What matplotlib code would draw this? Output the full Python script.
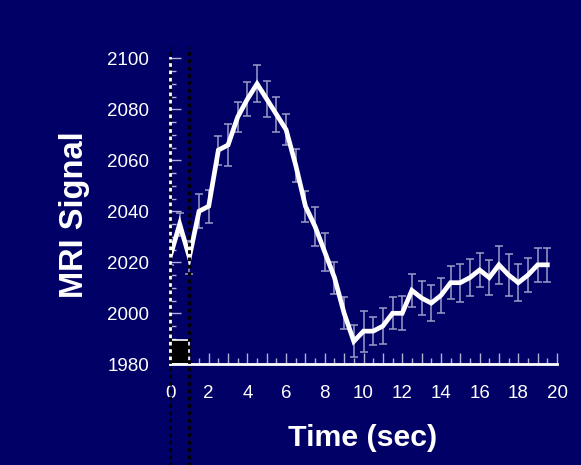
import matplotlib
matplotlib.use("Agg")
import matplotlib.pyplot as plt
from matplotlib.patches import Rectangle
from matplotlib.ticker import MultipleLocator

# ---- data ----
time_sec = [0.0, 0.5, 1.0, 1.5, 2.0, 2.5, 3.0, 3.5, 4.0, 4.5, 5.0, 5.5, 6.0, 6.5,
            7.0, 7.5, 8.0, 8.5, 9.0, 9.5, 10.0, 10.5, 11.0, 11.5, 12.0, 12.5,
            13.0, 13.5, 14.0, 14.5, 15.0, 15.5, 16.0, 16.5, 17.0, 17.5, 18.0,
            18.5, 19.0, 19.5]
mri_signal = [2022, 2035, 2022, 2040, 2042, 2064, 2066, 2077, 2084, 2090, 2084,
              2078, 2072, 2058, 2042, 2034, 2024, 2014, 2000, 1989, 1993, 1993,
              1995, 2000, 2000, 2009, 2006, 2004, 2007, 2012, 2012, 2014, 2017,
              2014, 2019, 2015, 2012, 2015, 2019, 2019]
signal_err = [3.0, 4.5, 6.5, 6.6, 6.5, 5.7, 8.3, 6.0, 6.8, 7.2, 7.1, 7.0, 6.0,
              6.5, 6.0, 7.5, 7.3, 6.3, 6.3, 6.3, 8.0, 5.4, 7.0, 6.2, 6.7, 6.5,
              6.5, 7.0, 7.0, 6.5, 7.5, 7.3, 6.8, 7.0, 7.4, 8.1, 7.3, 6.5, 6.6,
              6.8]
stim_start, stim_end, stim_top = 0, 1, 1989.5
x_ticks = list(range(0, 21))
x_tick_labels = [str(v) if v % 2 == 0 else "" for v in x_ticks]
y_ticks = [1980, 2000, 2020, 2040, 2060, 2080, 2100]

BG = "#000066"
W, H = 581, 465

plt.rcParams["font.family"] = ["Liberation Sans", "DejaVu Sans"]
fig = plt.figure(figsize=(W / 100, H / 100), dpi=100, facecolor=BG)
ax = fig.add_axes([170 / W, (H - 364.3) / H, (557 - 170) / W, (364.3 - 58.3) / H])
ax.set_facecolor(BG)
ax.set_xlim(0, 20)
ax.set_ylim(1980, 2100)

# stimulus block
ax.add_patch(Rectangle((stim_start, 1980), stim_end - stim_start, stim_top - 1980,
                       facecolor="black", edgecolor="white", linewidth=1.2,
                       zorder=2, clip_on=False))

# error bars + line
ax.errorbar(time_sec, mri_signal, yerr=signal_err, fmt="none",
            ecolor="#9c9cc8", elinewidth=1.1, capsize=3, capthick=1.1, zorder=3)
ax.plot(time_sec, mri_signal, color="white", linewidth=3.4, zorder=4,
        solid_joinstyle="miter")

# dotted stimulus lines
for xv in (stim_start, stim_end):
    ax.axvline(xv, ymin=(364.3 - 470) / 306, ymax=(364.3 - 47) / 306,
               color="black", linestyle=(0, (1.2, 1.2)), linewidth=2.2,
               clip_on=False, zorder=6)

for s in ("top", "right"):
    ax.spines[s].set_visible(False)
for s in ("left", "bottom"):
    ax.spines[s].set_color("white")
    ax.spines[s].set_linewidth(2)
    ax.spines[s].set_zorder(5)

ax.set_xticks(x_ticks)
ax.set_xticklabels(x_tick_labels)
ax.set_yticks(y_ticks)
ax.xaxis.set_minor_locator(MultipleLocator(0.5))
ax.yaxis.set_minor_locator(MultipleLocator(5))
ax.tick_params(axis="both", which="major", direction="in", length=8, width=1,
               colors="#b0b0d8", labelcolor="white", labelsize=13.5, pad=15)
ax.tick_params(axis="both", which="minor", direction="in", length=4, width=1,
               colors="#b0b0d8")

fig.text(363 / W, 1 - 438 / H, "Time (sec)", color="white", fontsize=21.8,
         fontweight="bold", ha="center", va="center")
fig.text(75 / W, 1 - 215 / H, "MRI Signal", color="white", fontsize=23.5,
         fontweight="bold", ha="center", va="center", rotation=90)

fig.savefig("out.png", dpi=100, facecolor=BG)
